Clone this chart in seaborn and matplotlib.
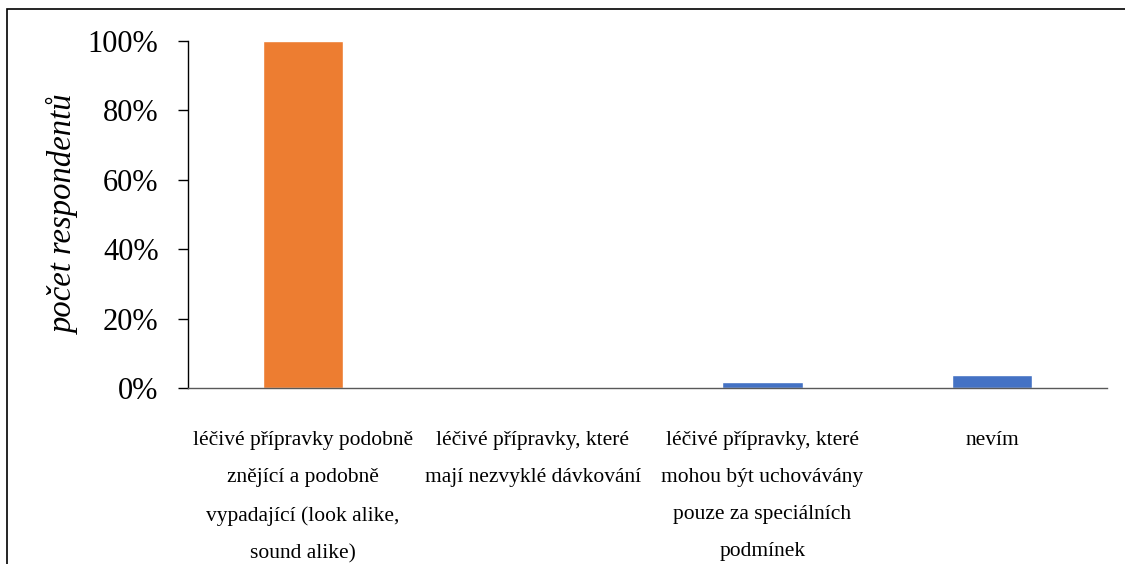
import matplotlib
matplotlib.use("Agg")
import matplotlib.pyplot as plt
import seaborn as sns
import pandas as pd
from matplotlib.patches import Rectangle
from matplotlib.ticker import FuncFormatter

categories = [
    "léčivé přípravky podobně\nznějící a podobně\nvypadající (look alike,\nsound alike)",
    "léčivé přípravky, které\nmají nezvyklé dávkování",
    "léčivé přípravky, které\nmohou být uchovávány\npouze za speciálních\npodmínek",
    "nevím",
]
values = [100.0, 0.0, 1.85, 3.7]
colors = ["#ED7D31", "#4472C4", "#4472C4", "#4472C4"]
y_ticks = [0, 20, 40, 60, 80, 100]
y_label = "počet respondentů"

sns.set_theme(style="white")
plt.rcParams["font.family"] = ["Liberation Serif", "DejaVu Serif"]
plt.rcParams["text.color"] = "black"
plt.rcParams["axes.labelcolor"] = "black"
plt.rcParams["xtick.color"] = "black"
plt.rcParams["ytick.color"] = "black"

fig = plt.figure(figsize=(11.25, 5.64), dpi=100)
ax = fig.add_axes([188 / 1125, 1 - 388 / 564, (1107 - 188) / 1125, (388 - 41) / 564])

df = pd.DataFrame({"cat": categories, "val": values})
sns.barplot(data=df, x="cat", y="val", hue="cat", palette=colors, width=0.35,
            legend=False, ax=ax, saturation=1)

ax.set_xlim(-0.5, 3.5)
ax.set_ylim(0, 100)
ax.set_yticks(y_ticks)
ax.yaxis.set_major_formatter(FuncFormatter(lambda v, p: f"{int(v)}%"))
ax.tick_params(axis="y", direction="out", length=7.2, width=1, color="black",
               labelsize=22, pad=14, left=True, labelcolor="black")
ax.tick_params(axis="x", length=0, labelsize=15.5, pad=31, labelcolor="black")
for t in ax.get_xticklabels():
    t.set_linespacing(2.29)
    t.set_verticalalignment("top")
ax.set_xlabel("")
ax.set_ylabel(y_label, fontsize=23.5, style="italic", labelpad=6, color="black")

for s in ["top", "right"]:
    ax.spines[s].set_visible(False)
ax.spines["left"].set_color("black")
ax.spines["left"].set_linewidth(1)
ax.spines["bottom"].set_color("#595959")
ax.spines["bottom"].set_linewidth(1)

fig.patches.append(Rectangle((7 / 1125, -0.2), 1.2, 1 - 9 / 564 + 0.2,
                             transform=fig.transFigure, fill=False,
                             edgecolor="black", linewidth=1.2))

fig.savefig("out.png", dpi=100)
